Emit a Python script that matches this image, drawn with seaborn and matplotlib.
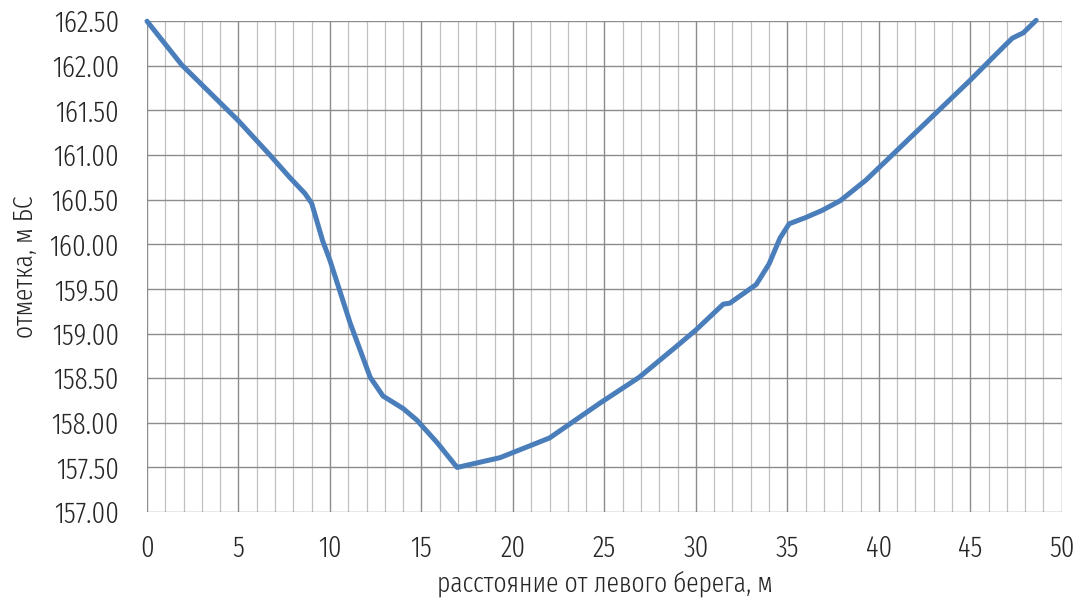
import numpy as np
import pandas as pd
import matplotlib
matplotlib.use("Agg")
import matplotlib.pyplot as plt
import seaborn as sns
from matplotlib.ticker import MultipleLocator, FormatStrFormatter

# расстояние от левого берега, м
distance = [0, 1.9, 4.97, 6.72, 7.8, 8.63, 9.0, 9.6, 10.0, 11.1, 12.2, 12.9, 14.0, 14.75,
            15.85, 16.95, 19.3, 22, 24.75, 26.9, 28.96, 30.0, 31.5, 31.85, 33.3, 34.0,
            34.6, 35.1, 36.0, 36.9, 37.9, 39.3, 45.0, 46.8, 47.3, 47.9, 48.6]
# отметка, м БС
elevation = [162.50, 162.01, 161.39, 161.00, 160.75, 160.57, 160.46, 160.04, 159.82, 159.12,
             158.51, 158.30, 158.16, 158.03, 157.78, 157.50, 157.61, 157.83, 158.22, 158.51,
             158.86, 159.04, 159.33, 159.34, 159.55, 159.78, 160.07, 160.23, 160.30, 160.38,
             160.49, 160.72, 161.84, 162.21, 162.31, 162.37, 162.51]

df = pd.DataFrame({"x": distance, "y": elevation})

sns.set_style("white")
plt.rcParams["font.family"] = ["Fira Sans Extra Condensed", "DejaVu Sans"]
plt.rcParams["font.weight"] = 300
plt.rcParams["axes.labelweight"] = 300

fig, ax = plt.subplots(figsize=(10.89, 6.06), dpi=100)
sns.lineplot(data=df, x="x", y="y", ax=ax, color="#4a7ebb", linewidth=3.6, sort=False)
ax.lines[0].set_solid_joinstyle("round")
ax.lines[0].set_clip_on(False)

ax.set_xlim(0, 50)
ax.set_ylim(157, 162.5)
ax.xaxis.set_major_locator(MultipleLocator(5))
ax.xaxis.set_minor_locator(MultipleLocator(1))
ax.yaxis.set_major_locator(MultipleLocator(0.5))
ax.yaxis.set_major_formatter(FormatStrFormatter("%.2f"))
ax.grid(which="major", color="#8c8c8c", linewidth=1.0)
ax.grid(which="minor", axis="x", color="#c0c0c0", linewidth=0.9)
ax.set_axisbelow(True)
for s in ax.spines.values():
    s.set_visible(False)
ax.tick_params(which="major", length=7, color="#8c8c8c", labelsize=21, labelcolor="#262626")
ax.tick_params(axis="y", pad=13)
ax.tick_params(axis="x", pad=9)
ax.tick_params(which="minor", length=0)

ax.set_xlabel("расстояние от левого берега, м", fontsize=20, color="#262626", labelpad=6)
ax.set_ylabel("отметка, м БС", fontsize=20, color="#262626", labelpad=8)

plt.subplots_adjust(left=0.135, right=0.975, top=0.965, bottom=0.155)
plt.savefig("out.png")
